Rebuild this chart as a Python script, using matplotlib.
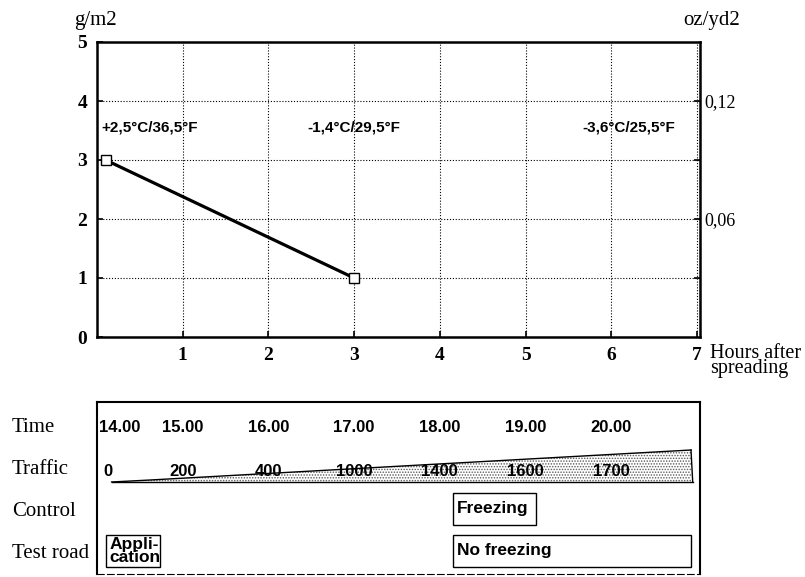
import numpy as np
import matplotlib
matplotlib.use("Agg")
import matplotlib.pyplot as plt
from matplotlib.patches import Rectangle

# Residual salt on the road surface (g/m2) versus hours after spreading
hours = [0.1, 3]
salt = [3, 1]

# Air temperature notes above the curve
temp_hours = [0.05, 3, 6.2]
temp_labels = ["+2,5\u00b0C/36,5\u00b0F", "-1,4\u00b0C/29,5\u00b0F", "-3,6\u00b0C/25,5\u00b0F"]

# Secondary axis in oz/yd2 (rounded conversion used on the original sheet)
oz_ticks = [0.06, 0.12]
oz_labels = ["0,06", "0,12"]
oz_per_g = 0.03

# Timeline rows below the chart
clock_hours = [0, 1, 2, 3, 4, 5, 6]
clock_labels = ["14.00", "15.00", "16.00", "17.00", "18.00", "19.00", "20.00"]
traffic_counts = ["0", "200", "400", "1000", "1400", "1600", "1700"]
wedge_hours = [0.17, 0.62, 6.93]
wedge_width = [0, 2, 32]

control_events = [("Freezing", 4.15, 5.12)]
test_events = [("Appli-\ncation", 0.1, 0.74), ("No freezing", 4.15, 6.93)]

serif = "Liberation Serif"
sans = "Liberation Sans"
plt.rcParams["hatch.linewidth"] = 0.7

fig = plt.figure(figsize=(8.05, 5.77), dpi=100)
ax = fig.add_axes([97 / 805, 1 - 337 / 577, 603 / 805, 295 / 577])
xmax = 7.035

ax.plot(hours, salt, color="black", lw=2.3, zorder=3)
ax.plot(hours, salt, ls="none", marker="s", ms=7, mfc="white", mec="black", mew=1.0, zorder=4)

ax.set_xlim(0, xmax)
ax.set_ylim(0, 5)
ax.set_xticks(range(1, 8))
ax.set_yticks(range(0, 6))
ax.tick_params(direction="in", length=4, width=1.2, labelsize=14, pad=7)
for lbl in ax.get_xticklabels() + ax.get_yticklabels():
    lbl.set_fontfamily(serif)
    lbl.set_fontweight("bold")
ax.grid(True, color="black", lw=0.8, ls=(0, (1, 1.6)))
for sp in ax.spines.values():
    sp.set_linewidth(1.8)

ax2 = ax.twinx()
ax2.set_ylim(0, 5)
ax2.set_yticks([t / oz_per_g for t in oz_ticks])
ax2.set_yticklabels(oz_labels)
ax2.set_yticks([1, 3], minor=True)
ax2.tick_params(which="both", direction="in", length=4, width=1.2, labelsize=13, pad=3)
for lbl in ax2.get_yticklabels():
    lbl.set_fontfamily(serif)
for sp in ax2.spines.values():
    sp.set_visible(False)

for x, t in zip(temp_hours, temp_labels):
    ax.text(x, 3.55, t, ha="left" if x < 0.5 else "center", va="center",
            fontsize=11, fontweight="bold", fontfamily=sans)

ax.text(-0.003, 1.04, "g/m2", transform=ax.transAxes, ha="center", va="bottom",
        fontsize=15, fontfamily=serif)
ax.text(1.02, 1.04, "oz/yd2", transform=ax.transAxes, ha="center", va="bottom",
        fontsize=15, fontfamily=serif)
ax.text(1.016, -0.025, "Hours after\nspreading", transform=ax.transAxes, ha="left",
        va="top", fontsize=14.5, fontfamily=serif, linespacing=0.7)

# Timeline panel, y measured downward in pixels from the top of the frame
bx = fig.add_axes([97 / 805, 1 - 574 / 577, 603 / 805, 172 / 577])
bx.set_xlim(0, xmax)
bx.set_ylim(172, 0)
bx.set_xticks([])
bx.set_yticks([])
for sp in bx.spines.values():
    sp.set_linewidth(1.5)
bx.spines["bottom"].set_linestyle((0, (6, 3)))
bx.spines["bottom"].set_linewidth(0.8)

row_y = {"Time": 26, "Traffic": 68, "Control": 109, "Test road": 151}
for name, y in row_y.items():
    bx.text(-0.141, y, name, transform=bx.get_yaxis_transform(), ha="left", va="center",
            fontsize=15, fontfamily=serif)

for i, (h, lab) in enumerate(zip(clock_hours, clock_labels)):
    bx.text(h + (0.02 if i == 0 else 0), row_y["Time"], lab, ha="left" if i == 0 else "center",
            va="center", fontsize=12, fontweight="bold", fontfamily=sans)

base = 80
wx = np.array(wedge_hours)
wtop = base - np.array(wedge_width)
bx.fill_between(wx, wtop, base, facecolor="white", edgecolor="0.35", hatch="......",
                lw=0, zorder=2)
bx.plot(wx, wtop, color="black", lw=1.0, zorder=3)
bx.plot([wx[0], wx[-1] + 0.02], [base, base], color="black", lw=1.0, zorder=3)
bx.plot([wx[-1], wx[-1] + 0.02], [wtop[-1], base], color="black", lw=1.0, zorder=3)

for i, (h, lab) in enumerate(zip(clock_hours, traffic_counts)):
    bx.text(h + (0.07 if i == 0 else 0), row_y["Traffic"] + 2, lab,
            ha="left" if i == 0 else "center", va="center", fontsize=12,
            fontweight="bold", fontfamily=sans, zorder=4)


def event_box(label, start, end, top, bottom):
    bx.add_patch(Rectangle((start, top), end - start, bottom - top, facecolor="white",
                           edgecolor="black", lw=1.0, zorder=3))
    bx.text(start + 0.05, (top + bottom) / 2, label, ha="left", va="center", fontsize=12.5,
            fontweight="bold", fontfamily=sans, linespacing=0.75, zorder=4)


for label, s, e in control_events:
    event_box(label, s, e, 91, 123)
for label, s, e in test_events:
    event_box(label, s, e, 133, 165)

fig.savefig("out.png", dpi=100)
